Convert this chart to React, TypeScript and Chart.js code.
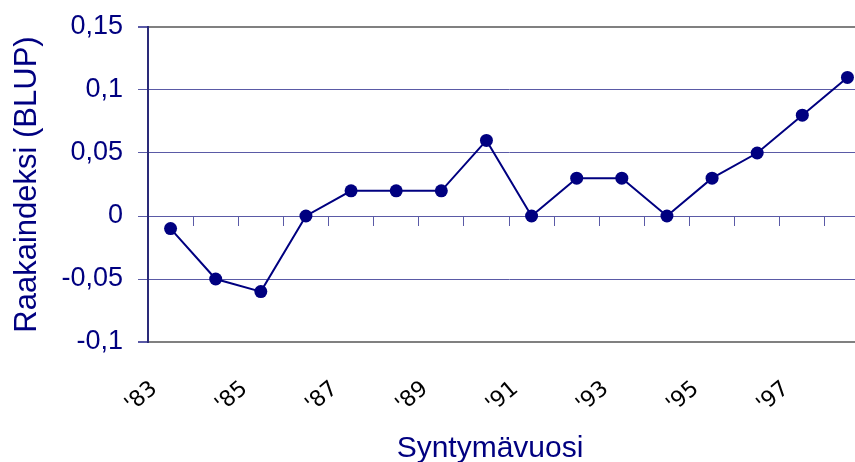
import React, { useEffect, useRef } from "react";
import { Chart, registerables } from "chart.js";

Chart.register(...registerables);

const years = ["'83", "'84", "'85", "'86", "'87", "'88", "'89", "'90", "'91", "'92", "'93", "'94", "'95", "'96", "'97", "'98"];
const shownYears = ["'83", "'85", "'87", "'89", "'91", "'93", "'95", "'97"];
const blupValues = [-0.01, -0.05, -0.06, 0, 0.02, 0.02, 0.02, 0.06, 0, 0.03, 0.03, 0, 0.03, 0.05, 0.08, 0.11];
const yMin = -0.1;
const yMax = 0.15;
const yStep = 0.05;
const yTitle = "Raakaindeksi (BLUP)";
const xTitle = "Syntymävuosi";

const NAVY = "#000080";
const GRID = "#5a5aa6";
const BORDER_GRAY = "#808080";
const SANS = '"Liberation Sans", Arial, sans-serif';

const fmt = (v: number) => {
  const r = Math.round(v * 100) / 100;
  return (r === 0 ? "0" : String(r)).replace(".", ",");
};

const xTitlePlugin = {
  id: "xTitlePlugin",
  afterDraw(chart: any) {
    const { ctx, chartArea } = chart;
    ctx.save();
    ctx.font = "30px " + SANS;
    ctx.fillStyle = NAVY;
    ctx.textAlign = "center";
    ctx.textBaseline = "alphabetic";
    ctx.fillText(xTitle, chartArea.left + 342, 457);
    ctx.restore();
  },
};

export default function App() {
  const ref = useRef<HTMLCanvasElement | null>(null);
  useEffect(() => {
    if (!ref.current) return;
    const chart = new Chart(ref.current, {
      type: "line",
      data: {
        labels: years,
        datasets: [
          {
            data: blupValues,
            borderColor: NAVY,
            backgroundColor: NAVY,
            borderWidth: 2,
            pointRadius: 6.5,
            pointHoverRadius: 6.5,
            pointBackgroundColor: NAVY,
            pointBorderColor: NAVY,
            pointBorderWidth: 0,
            tension: 0,
            fill: false,
          },
        ],
      },
      plugins: [xTitlePlugin],
      options: {
        responsive: false,
        animation: false,
        devicePixelRatio: 1,
        layout: { padding: { left: 0, top: 27, right: 10, bottom: 0 } },
        plugins: { legend: { display: false }, tooltip: { enabled: false } },
        scales: {
          x: {
            type: "category",
            position: "bottom",
            offset: true,
            grid: { display: false },
            border: { display: false },
            afterFit: (s: any) => {
              s.height = 120;
              s.paddingLeft = 0;
              s.paddingRight = 0;
            },
            ticks: {
              autoSkip: false,
              maxRotation: 40,
              minRotation: 40,
              padding: 26,
              labelOffset: -16,
              color: "#000000",
              font: { family: '"DejaVu Sans", sans-serif', size: 22 },
              callback: (_v: any, i: number) => (shownYears.includes(years[i]) ? years[i] : ""),
            },
          },
          x2: {
            type: "category",
            axis: "x",
            position: { y: 0 },
            offset: true,
            afterFit: (s: any) => {
              s.paddingLeft = 0;
              s.paddingRight = 0;
              s.paddingTop = 0;
              s.paddingBottom = 0;
            },
            grid: {
              display: true,
              drawOnChartArea: false,
              drawTicks: true,
              tickLength: 10,
              color: GRID,
              tickColor: GRID,
              offset: true,
            },
            border: { display: false },
            ticks: { display: false },
          },
          y: {
            min: yMin,
            max: yMax,
            afterFit: (s: any) => {
              s.width = 148;
              s.paddingTop = 0;
              s.paddingBottom = 0;
            },
            ticks: {
              stepSize: yStep,
              padding: 15,
              color: NAVY,
              font: { family: SANS, size: 27 },
              callback: (v: any) => fmt(Number(v)),
            },
            grid: {
              color: (c: any) => {
                const v = c.tick ? c.tick.value : 0;
                return Math.abs(v - yMax) < 1e-9 || Math.abs(v - yMin) < 1e-9 ? BORDER_GRAY : GRID;
              },
              lineWidth: (c: any) => {
                const v = c.tick ? c.tick.value : 0;
                return Math.abs(v - yMax) < 1e-9 || Math.abs(v - yMin) < 1e-9 ? 2 : 1;
              },
              tickColor: GRID,
              tickLength: 10,
              drawTicks: true,
            },
            border: { display: true, color: "#2a2a78", width: 2 },
            title: {
              display: true,
              text: yTitle,
              color: NAVY,
              font: { family: SANS, size: 31 },
              padding: { top: 9, bottom: 0 },
            },
          },
        },
      },
    } as any);
    return () => chart.destroy();
  }, []);
  return (
    <div style={{ position: "fixed", left: 0, top: 0, width: 855, height: 462, overflow: "hidden", background: "#ffffff" }}>
      <canvas ref={ref} width={880} height={462} style={{ width: 880, height: 462, display: "block" }} />
    </div>
  );
}
